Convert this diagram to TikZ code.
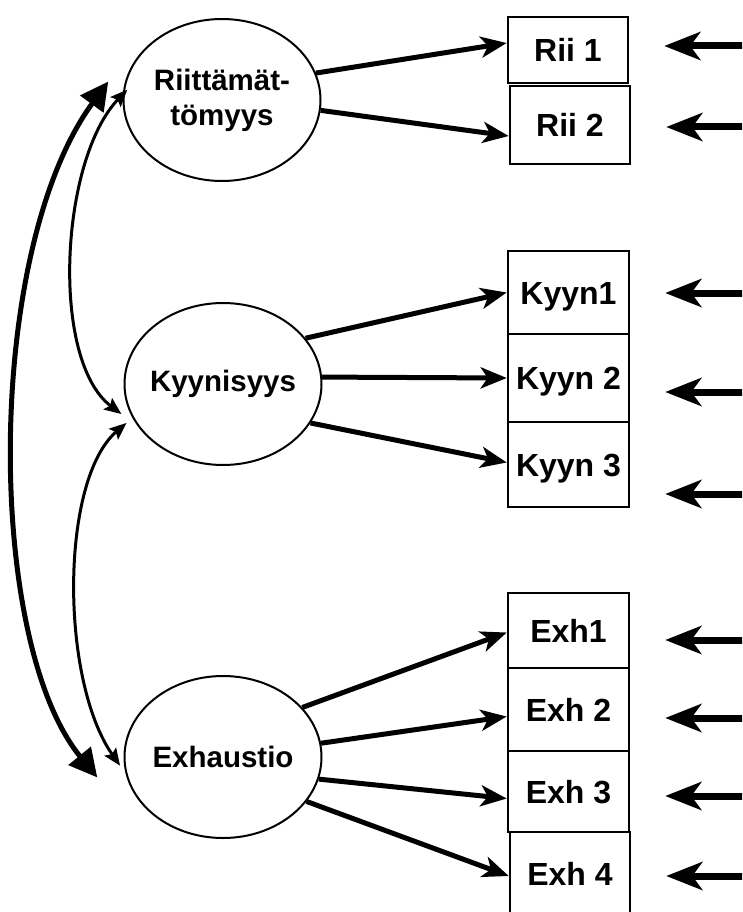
\documentclass[tikz,border=0pt]{standalone}
\usepackage{fontspec}
\setmainfont{Liberation Sans}
\usetikzlibrary{shapes.geometric,arrows.meta,calc}
\begin{document}
\begin{tikzpicture}[x=1pt,y=-1pt,
  latent/.style={ellipse,draw,line width=2pt,minimum width=197pt,minimum height=162pt,inner xsep=-12pt,inner ysep=0pt,align=center,
    font=\fontsize{29.5}{35}\selectfont\bfseries},
  item/.style={rectangle,draw,line width=2.5pt,inner sep=0pt,text height=23pt,text depth=0pt,
    font=\fontsize{32}{38}\selectfont\bfseries},
  load/.style={line width=5pt,-{Stealth[length=26pt,width=21pt,inset=7pt]}},
  err/.style={line width=7pt,-{Stealth[length=36pt,width=28pt,inset=10pt]}},
  cov/.style={line width=3pt,{Stealth[length=17pt,width=14pt,inset=3pt]}-{Stealth[length=17pt,width=14pt,inset=3pt]}},
  bigcov/.style={line width=5pt,{Triangle[length=28pt,width=28pt]}-{Triangle[length=28pt,width=28pt]}},
]
\clip (0,0) rectangle (742,912);

% latent factors
\node[latent] (R) at (222,100) {Riittämät-\\tömyys};
\node[latent] (K) at (223,384) {Kyynisyys};
\node[latent] (E) at (223,757) {Exhaustio};

% indicators
\node[item,minimum width=120pt,minimum height=66pt] (rii1) at (568,50) {Rii 1};
\node[item,minimum width=120pt,minimum height=78pt] (rii2) at (570,125) {Rii 2};
\node[item,minimum width=121pt,minimum height=83pt] (kyyn1) at (568.5,292.5) {Kyyn1};
\node[item,minimum width=121pt,minimum height=88pt] (kyyn2) at (568.5,378) {Kyyn 2};
\node[item,minimum width=121pt,minimum height=85pt] (kyyn3) at (568.5,464.5) {Kyyn 3};
\node[item,minimum width=121pt,minimum height=75pt] (exh1) at (568.5,630.5) {Exh1};
\node[item,minimum width=121pt,minimum height=83pt] (exh2) at (568.5,709.5) {Exh 2};
\node[item,minimum width=121pt,minimum height=81pt] (exh3) at (568.5,791.5) {Exh 3};
\node[item,minimum width=120pt,minimum height=84pt] (exh4) at (570,874) {Exh 4};

% loadings
\draw[load] (R.16) -- ([yshift=7pt]rii1.west);
\draw[load] (R.-6) -- ([yshift=-11pt]rii2.west);
\draw[load] (K.29) -- (kyyn1.west);
\draw[load] (K.4) -- (kyyn2.west);
\draw[load] (K.-24) -- ([yshift=2pt]kyyn3.west);
\draw[load] (E.32) -- ([yshift=-2pt]exh1.west);
\draw[load] (E.8) -- ([yshift=-7pt]exh2.west);
\draw[load] (E.-13) -- ([yshift=-7pt]exh3.west);
\draw[load] (E.-28) -- ([yshift=-2pt]exh4.west);

% error terms
\foreach \b/\y in {rii1/46, rii2/127, kyyn1/293, kyyn2/392, kyyn3/494, exh1/640, exh2/718, exh3/796, exh4/876} {
  \coordinate (src-\b) at (750,\y);
  \draw[err] (src-\b) -- ($(\b.east |- src-\b)+(35,0)$);
}

% factor covariances
\draw[bigcov] ([xshift=-16pt,yshift=3pt]R.171) .. controls (-15,250) and (-15,640) .. ([xshift=-28pt,yshift=-5pt]E.189);
\draw[cov] ([xshift=4pt]R.174) .. controls (60,160) and (50,360) .. ([xshift=-9pt]K.198);
\draw[cov] ([xshift=-9pt]K.204) .. controls (60,480) and (60,680) .. ([xshift=-4pt]E.185);
\end{tikzpicture}
\end{document}
